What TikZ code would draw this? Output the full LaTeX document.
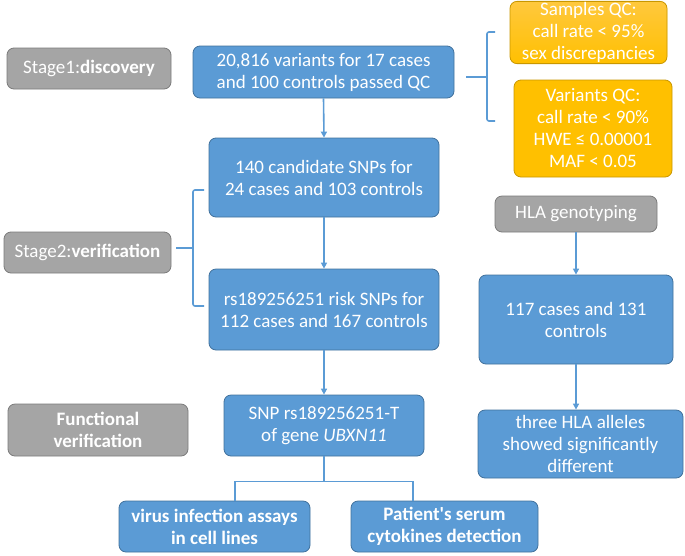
\documentclass[tikz,border=0pt]{standalone}
\usepackage{fontspec}
\setmainfont{Carlito}
\usepackage{tikz}
\usetikzlibrary{arrows.meta, positioning, calc}

\definecolor{boxblue}{HTML}{5B9BD5}
\definecolor{edgeblue}{HTML}{41719C}
\definecolor{boxgray}{HTML}{A5A5A5}
\definecolor{edgegray}{HTML}{7B7B7B}
\definecolor{boxgold}{HTML}{FFC000}
\definecolor{edgegold}{HTML}{C99700}

\tikzset{
  card/.style={rounded corners=7pt, text=white, align=center, inner sep=1pt,
    line width=0.8pt, font=\fontsize{19}{22}\selectfont},
  bluebox/.style={card, draw=edgeblue, fill=boxblue},
  graybox/.style={card, draw=edgegray, fill=boxgray},
  goldbox/.style={card, draw=edgegold, fill=boxgold},
  size/.style 2 args={minimum width=#1pt, minimum height=#2pt},
  link/.style={draw=boxblue, line width=1.6pt},
  flow/.style={link, -{Triangle[length=6pt, width=6pt]}},
  brace/.style={link, rounded corners=2pt},
}

\begin{document}
\begin{tikzpicture}[x=1pt, y=-1pt]
  \useasboundingbox (0,0) rectangle (685,555);

  % left column: stage labels
  \node[graybox, size={164}{41}] (stage1) at (89,68.5) {Stage1:\textbf{discovery}};
  \node[graybox, size={167}{41}] (stage2) at (87.5,252.5) {Stage2:\textbf{verification}};
  \node[graybox, size={180}{52}] (func) at (98,430) {\textbf{Functional}\\\textbf{verification}};

  % main column
  \node[bluebox, size={261}{52}] (variants) at (323.5,72) {20,816 variants for 17 cases\\and 100 controls passed QC};
  \node[bluebox, size={230}{79}] (cand) at (324,177.5) {140 candidate SNPs for\\24 cases and 103 controls};
  \node[bluebox, size={230}{81}] (risk) at (324,309.5) {rs189256251 risk SNPs for\\112 cases and 167 controls};
  \node[bluebox, size={200}{61}] (snp) at (324,425.5) {SNP rs189256251-T\\of gene \textit{UBXN11}};
  \node[bluebox, size={191}{51}, font=\fontsize{19}{22}\selectfont\bfseries] (virus) at (214.5,526.5) {virus infection assays\\in cell lines};
  \node[bluebox, size={187}{51}, font=\fontsize{19}{22}\selectfont\bfseries] (serum) at (444.5,526.5) {Patient\textquotesingle s serum\\cytokines detection};

  % QC criteria
  \node[goldbox, size={157}{61}, top color={rgb,255:red,255;green,200;blue,62}, bottom color=boxgold] (sampqc) at (588.5,32.5) {Samples QC:\\call rate < 95\%\\sex discrepancies};
  \node[goldbox, size={158}{97}] (varqc) at (593,128.5) {Variants QC:\\call rate < 90\%\\HWE ≤ 0.00001\\MAF < 0.05};

  % HLA branch
  \node[graybox, size={162}{36}] (hla) at (576,214) {HLA genotyping};
  \node[bluebox, size={194}{89}] (hlacases) at (576,319.5) {117 cases and 131\\controls};
  \node[bluebox, size={205}{68}] (alleles) at (580.5,444) {three HLA alleles\\showed significantly\\different};

  % arrows
  \draw[flow] (variants.south) -- (cand.north);
  \draw[flow] (cand.south) -- (risk.north);
  \draw[flow] (risk.south) -- (snp.north);
  \draw[flow] (hla.south) -- (hlacases.north);
  \draw[flow] (hlacases.south) -- (hlacases.south |- alleles.north);
  \coordinate (split) at ($(snp.south)+(0,25)$);
  \draw[link] (snp.south) -- (split);
  \draw[link] ([xshift=20.5pt]virus.north) |- (split) -| ([xshift=-31.5pt]serum.north);

  % braces
  \coordinate (b1) at (466,77);
  \draw[brace] (495,32) -- (487,32) -- (487,121) -- (495,121);
  \draw[link] (b1) -- (487,77);
  \coordinate (b2) at (176,248);
  \draw[brace] (204,190) -- (193,190) -- (193,306) -- (204,306);
  \draw[link] (b2) -- (193,248);
\end{tikzpicture}
\end{document}
